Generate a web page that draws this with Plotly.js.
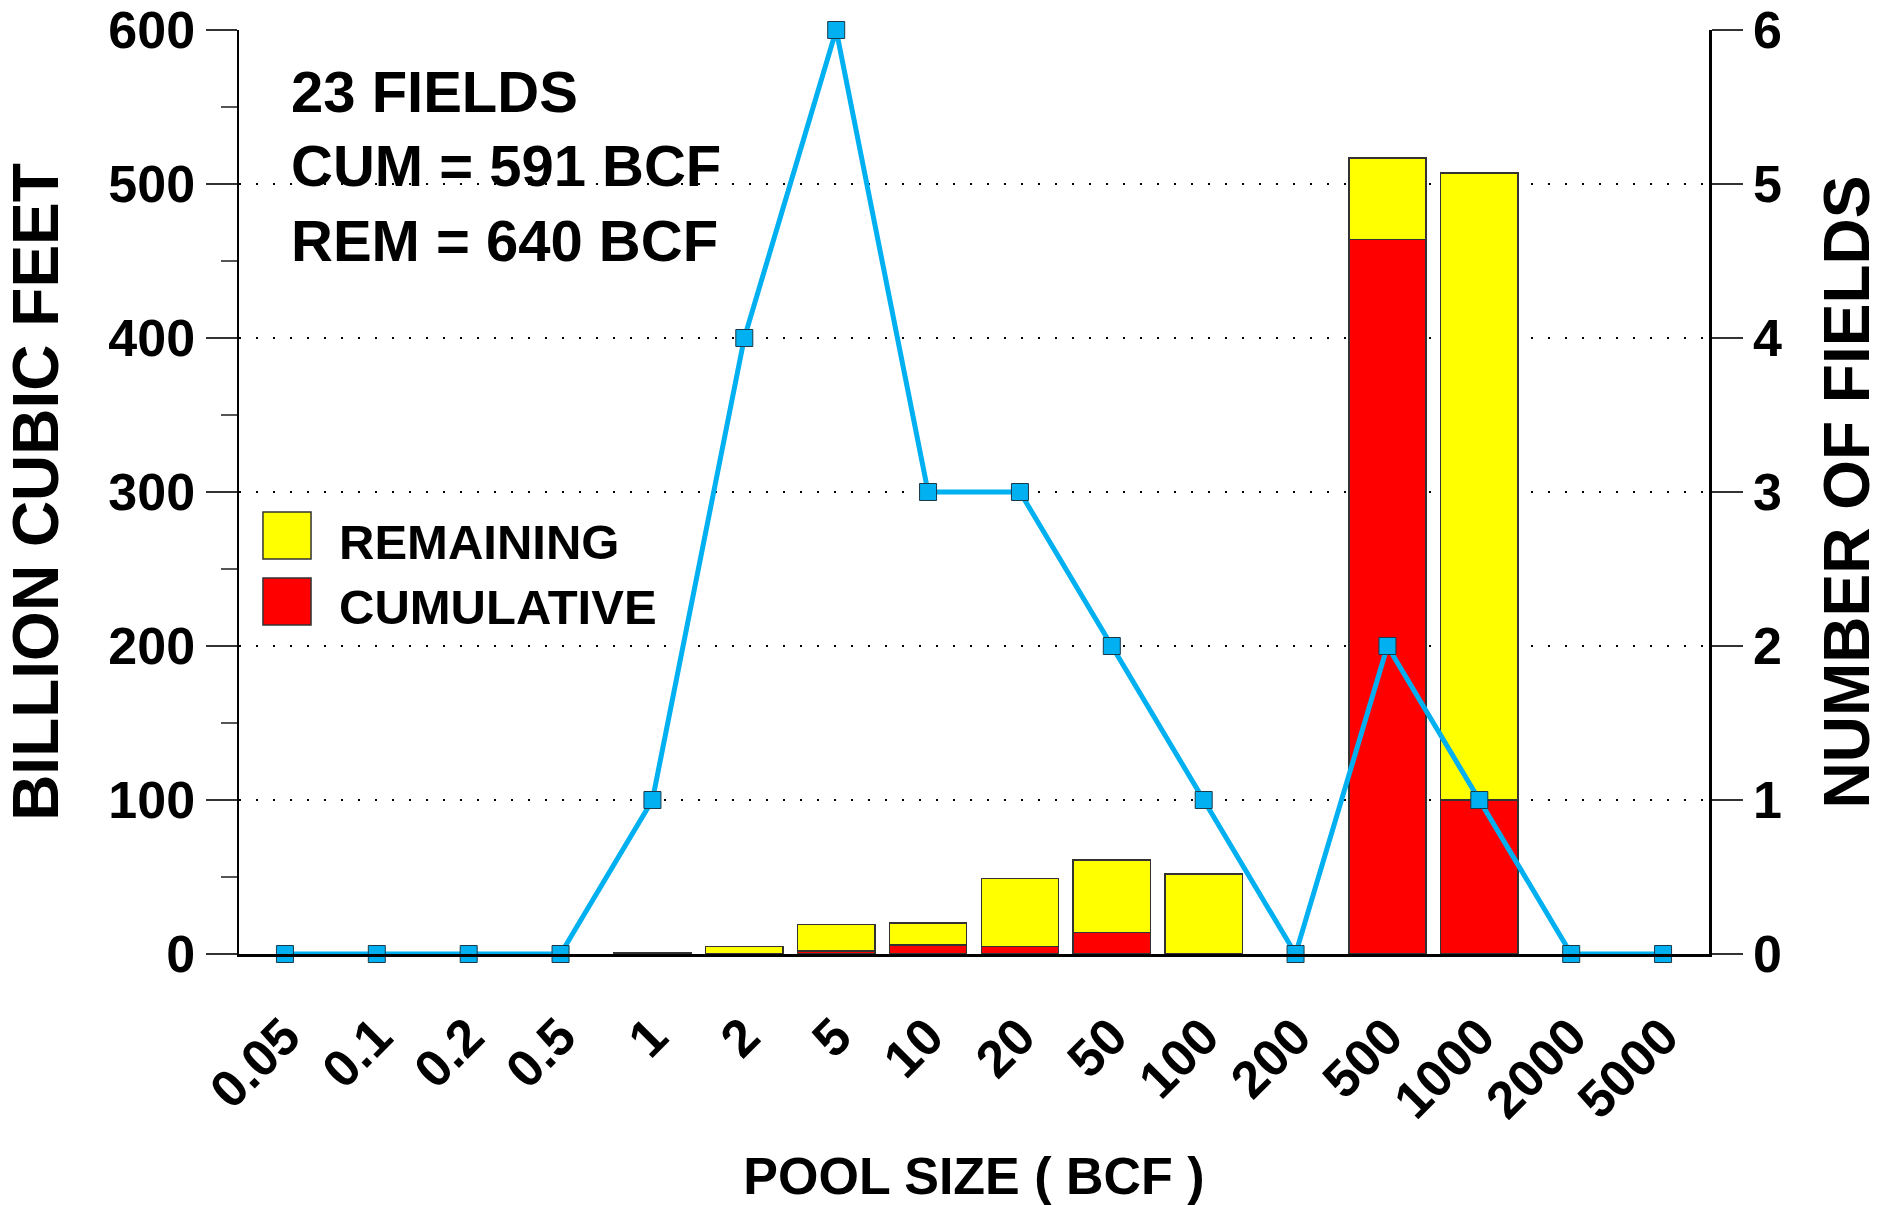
<!DOCTYPE html>
<html>
<head>
<meta charset="utf-8">
<script src="https://cdn.plot.ly/plotly-3.0.1.min.js"></script>
<style>html,body{margin:0;padding:0;background:#fff;}#chart{width:1892px;height:1205px;}</style>
</head>
<body>
<div id="chart"></div>
<script>
// Data
const poolSizes = ['0.05','0.1','0.2','0.5','1','2','5','10','20','50','100','200','500','1000','2000','5000'];
const cumulative = [0, 0, 0, 0, 0, 0, 2, 6, 5, 14, 0, 0, 464, 100, 0, 0];
const remaining  = [0, 0, 0, 0, 1, 5, 17, 14, 44, 47, 52, 0, 53, 407, 0, 0];
const fieldCounts = [0, 0, 0, 0, 1, 4, 6, 3, 3, 2, 1, 0, 2, 1, 0, 0];
const notes = ['23 FIELDS', 'CUM = 591 BCF', 'REM = 640 BCF'];
const legendNames = ['REMAINING', 'CUMULATIVE'];
const yTicks = [0, 100, 200, 300, 400, 500, 600];
const y2Ticks = [0, 1, 2, 3, 4, 5, 6];

const FONT = 'Liberation Sans, Arial, Helvetica, sans-serif';
const bold = (size) => ({family: FONT, size: size, color: '#000', weight: 700});
const BLUE = '#00B0F0';
const noZero = (arr) => arr.map(v => (v === 0 ? null : v));

const traces = [
  {type: 'bar', x: poolSizes, y: noZero(cumulative), name: legendNames[1],
   marker: {color: '#FF0000', line: {color: '#333', width: 1.5}}, showlegend: false, hoverinfo: 'x+y'},
  {type: 'bar', x: poolSizes, y: noZero(remaining), name: legendNames[0],
   marker: {color: '#FFFF00', line: {color: '#333', width: 1.5}}, showlegend: false, hoverinfo: 'x+y'},
  {type: 'scatter', mode: 'lines+markers', x: poolSizes, y: fieldCounts, yaxis: 'y2',
   line: {color: BLUE, width: 5}, cliponaxis: false,
   marker: {symbol: 'square', size: 17, color: BLUE, line: {color: '#1a3a4a', width: 1}},
   showlegend: false}
];

// legend swatches + text (paper coords)
const shapes = [
  {type: 'rect', xref: 'paper', yref: 'paper', x0: 0.0163, x1: 0.049, y0: 0.4275, y1: 0.4784,
   fillcolor: '#FFFF00', line: {color: '#333', width: 1.5}},
  {type: 'rect', xref: 'paper', yref: 'paper', x0: 0.0163, x1: 0.049, y0: 0.356, y1: 0.4069,
   fillcolor: '#FF0000', line: {color: '#333', width: 1.5}}
];

const annotations = [
  {text: notes[0], xref: 'paper', yref: 'paper', x: 0.034, y: 0.933, xanchor: 'left', yanchor: 'middle', showarrow: false, font: bold(58)},
  {text: notes[1], xref: 'paper', yref: 'paper', x: 0.034, y: 0.8536, xanchor: 'left', yanchor: 'middle', showarrow: false, font: bold(58)},
  {text: notes[2], xref: 'paper', yref: 'paper', x: 0.034, y: 0.7727, xanchor: 'left', yanchor: 'middle', showarrow: false, font: bold(58)},
  {text: legendNames[0], xref: 'paper', yref: 'paper', x: 0.0667, y: 0.4459, xanchor: 'left', yanchor: 'middle', showarrow: false, font: bold(49)},
  {text: legendNames[1], xref: 'paper', yref: 'paper', x: 0.0667, y: 0.3755, xanchor: 'left', yanchor: 'middle', showarrow: false, font: bold(49)}
];

const layout = {
  width: 1892, height: 1205,
  margin: {l: 239, r: 183, t: 30, b: 251},
  paper_bgcolor: '#fff', plot_bgcolor: '#fff',
  barmode: 'stack', bargap: 0.16,
  font: bold(52),
  showlegend: false,
  xaxis: {
    type: 'category', range: [-0.5, 15.5], tickangle: -45,
    ticks: '', showgrid: false, zeroline: false,
    showline: true, linecolor: '#000', linewidth: 3,
    tickfont: bold(52), ticklabelstandoff: 28,
    title: {text: 'POOL SIZE ( BCF )', font: bold(52), standoff: 36},
    automargin: false
  },
  yaxis: {
    range: [0, 600], tickvals: yTicks, ticktext: yTicks.map(String),
    ticks: 'outside', ticklen: 31, tickwidth: 1.5, tickcolor: '#333',
    minor: {dtick: 50, tick0: 0, ticks: 'outside', ticklen: 16, tickwidth: 1.5, tickcolor: '#555', showgrid: false},
    showline: true, linecolor: '#000', linewidth: 2.5,
    showgrid: true, gridcolor: '#000', gridwidth: 2, griddash: '2px,15px',
    zeroline: false, tickfont: bold(52),
    title: {text: 'BILLION CUBIC FEET', font: bold(64), standoff: 33},
    automargin: false
  },
  yaxis2: {
    overlaying: 'y', side: 'right', range: [0, 6],
    tickvals: y2Ticks, ticktext: y2Ticks.map(String),
    ticks: 'outside', ticklen: 31, tickwidth: 1.5, tickcolor: '#333',
    showline: true, linecolor: '#000', linewidth: 2.5,
    showgrid: false, zeroline: false, tickfont: bold(52),
    title: {text: 'NUMBER OF FIELDS', font: bold(64), standoff: 44},
    automargin: false
  },
  shapes: shapes,
  annotations: annotations
};

Plotly.newPlot('chart', traces, layout, {displayModeBar: false, staticPlot: true});
</script>
</body>
</html>
